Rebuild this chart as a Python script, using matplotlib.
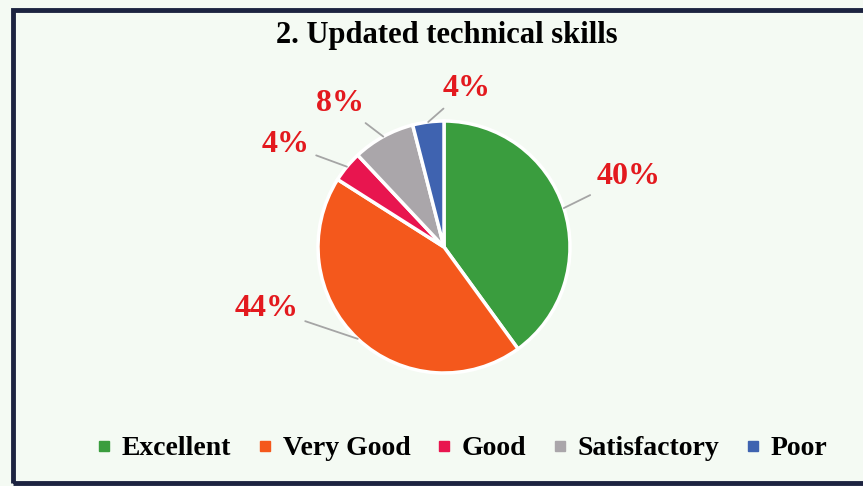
import numpy as np
import matplotlib.pyplot as plt
from matplotlib.patches import Rectangle
from matplotlib.lines import Line2D

categories = ["Excellent", "Very Good", "Good", "Satisfactory", "Poor"]
shares = [40, 44, 4, 8, 4]
colors = ["#3a9d3e", "#f4581c", "#e8154f", "#aaa6aa", "#3f63b0"]

# label placement (angle in degrees, radius in pie radii) per slice
label_pos = [(21, 1.57), (199, 1.49), (147, 1.50), (126, 1.41), (82, 1.27)]

plt.rcParams['font.family'] = ['Liberation Serif', 'DejaVu Serif']
plt.rcParams['font.weight'] = 'bold'

fig = plt.figure(figsize=(8.63, 4.86), dpi=100)
fig.patch.set_facecolor("#f4faf3")

# dark frame
fig.patches.append(Rectangle((0.015, 0.006), 1.0, 0.973, transform=fig.transFigure,
                             fill=False, edgecolor="#1c2340", linewidth=3.5))

W, H = 863, 486
cx, cy, r = 444, 247, 126
ax = fig.add_axes([(cx - r) / W, (H - cy - r) / H, 2 * r / W, 2 * r / H])
ax.set_facecolor("none")

wedges, _ = ax.pie(shares, colors=colors, startangle=90, counterclock=False,
                   wedgeprops=dict(edgecolor="white", linewidth=2.5))
ax.set_aspect("equal")
ax.set_xlim(-1, 1)
ax.set_ylim(-1, 1)

for w, s, (ang, dist) in zip(wedges, shares, label_pos):
    mid = np.deg2rad((w.theta1 + w.theta2) / 2)
    ex, ey = np.cos(mid), np.sin(mid)
    tx, ty = dist * np.cos(np.deg2rad(ang)), dist * np.sin(np.deg2rad(ang))
    ax.annotate(f"{s}%", xy=(ex, ey), xytext=(tx, ty),
                ha="center", va="center", fontsize=23, color="#e3191e",
                fontweight="bold", annotation_clip=False,
                arrowprops=dict(arrowstyle="-", color="#a5a5a5", lw=1.3,
                                shrinkA=3, shrinkB=0))

fig.text(0.518, 0.927, "2. Updated technical skills", ha="center", va="center",
         fontsize=22, fontweight="bold", color="black")

handles = [Line2D([], [], marker="s", linestyle="none", markersize=7.5,
                  markerfacecolor=c, markeredgecolor=c) for c in colors]
fig.legend(handles, categories, loc="center", bbox_to_anchor=(0.535, 0.077),
           ncol=5, frameon=False, handlelength=0.6,
           handletextpad=0.35, columnspacing=0.9,
           prop=dict(family='Liberation Serif', weight='bold', size=20))

fig.savefig("out.png", dpi=100, facecolor=fig.get_facecolor())
